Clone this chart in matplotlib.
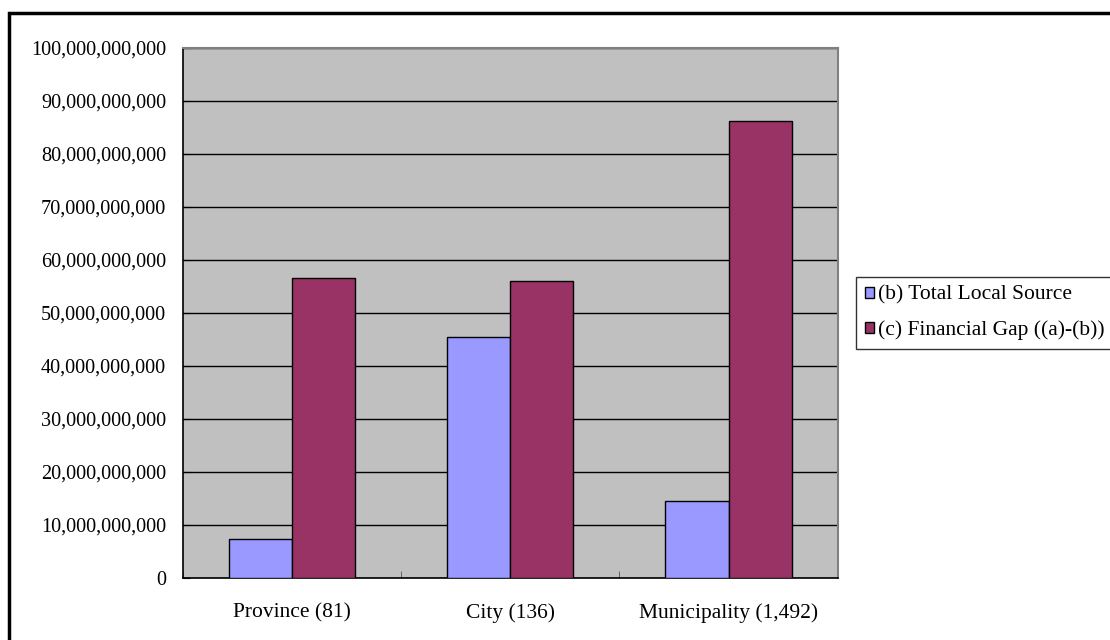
import matplotlib.pyplot as plt
import numpy as np
from matplotlib.patches import Patch, Rectangle
from matplotlib.ticker import FuncFormatter, MultipleLocator

categories = ["Province (81)", "City (136)", "Municipality (1,492)"]
local_source = [7.3e9, 45.4e9, 14.5e9]
financial_gap = [56.6e9, 56.0e9, 86.1e9]
series_names = ["(b) Total Local Source", "(c) Financial Gap ((a)-(b))"]
colors = ["#9999FF", "#993366"]

plt.rcParams["font.family"] = ["Liberation Serif", "DejaVu Serif"]

W, H = 1110, 640
fig = plt.figure(figsize=(W / 100, H / 100), dpi=100)
ax = fig.add_axes([182.7 / W, 1 - 578 / H, (837.7 - 182.7) / W, (578 - 47.5) / H])

x = np.arange(len(categories))
bw = 63.2 / 218.3
ax.bar(x - bw / 2, local_source, bw, color=colors[0], edgecolor="black", linewidth=1.0, zorder=3)
ax.bar(x + bw / 2, financial_gap, bw, color=colors[1], edgecolor="black", linewidth=1.0, zorder=3)

ax.set_facecolor("#C0C0C0")
ax.set_xlim(-0.5, len(categories) - 0.5)
ax.set_ylim(0, 100e9)
ax.yaxis.set_major_locator(MultipleLocator(10e9))
ax.yaxis.set_major_formatter(FuncFormatter(lambda v, p: f"{v:,.0f}"))
ax.grid(axis="y", color="black", linewidth=1.0, zorder=1)

ax.set_xticks(x)
ax.set_xticklabels(categories, fontsize=15.5)
ax.xaxis.set_minor_locator(MultipleLocator(1, offset=0.5))
ax.tick_params(axis="x", which="major", length=0, pad=18)
ax.tick_params(axis="x", which="minor", length=5, direction="in", color="#555555")
ax.tick_params(axis="y", length=5, direction="in", labelsize=14.6, pad=12)

for side in ["top", "right"]:
    ax.spines[side].set_color("#808080")
    ax.spines[side].set_linewidth(1.5)
for side in ["left", "bottom"]:
    ax.spines[side].set_color("black")
    ax.spines[side].set_linewidth(1.2)

handles = [Patch(facecolor=c, edgecolor="black", linewidth=1.0) for c in colors]
leg = fig.legend(handles, series_names, loc="upper left",
                 bbox_to_anchor=(856 / W, 1 - 277 / H), fontsize=15.5,
                 frameon=True, fancybox=False, edgecolor="black",
                 handlelength=0.42, handleheight=0.42, handletextpad=0.22,
                 borderpad=0.4, labelspacing=0.72, borderaxespad=0)
leg.get_frame().set_linewidth(1.0)

# outer chart frame, running past the right and bottom edges
fig.patches.append(Rectangle((9 / W, -0.1), 1.2, 1 - 13 / H + 0.1,
                             transform=fig.transFigure, fill=False,
                             edgecolor="black", linewidth=2.5))

fig.savefig("out.png", dpi=100)
